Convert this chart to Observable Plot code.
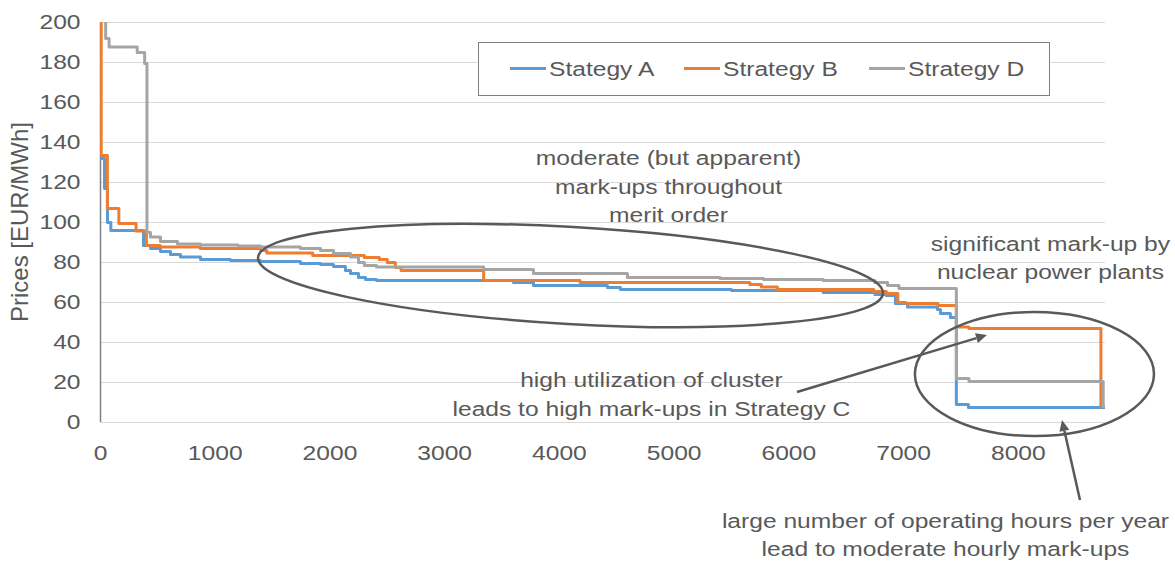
<!DOCTYPE html>
<html><head><meta charset="utf-8">
<script src="https://cdn.jsdelivr.net/npm/d3@7"></script>
<script src="https://cdn.jsdelivr.net/npm/@observablehq/plot@0.6"></script>
<style>body{margin:0;background:#fff} svg{display:block}</style>
</head><body><div id="chart"></div>
<script>
// ---- data (price duration curves, step breakpoints: hour -> price) ----
const seriesNames = ["Stategy A", "Strategy B", "Strategy D"];
const seriesColors = ["#5B9BD5", "#ED7D31", "#A5A5A5"];

const hoursA  = [0, 35, 61, 90, 375, 436, 523, 610, 697, 872, 1133, 1395, 1743, 1918, 2031, 2135, 2179, 2249, 2310, 2406, 3600, 3774, 4419, 4532, 5500, 6300, 6750, 6850, 6929, 7034, 7295, 7321, 7408, 7460, 7565, 8760];
const pricesA = [132, 117, 100, 96, 88.5, 87, 85.5, 84, 82.7, 81.5, 81, 80.5, 79.5, 79, 78, 76, 74.5, 72.5, 71.5, 71, 70, 68.5, 67.5, 66.5, 66, 65, 64, 63.5, 59.5, 57.7, 56.5, 54.5, 52.5, 9, 7.5, 7.5];

const hoursB  = [0, 6, 60, 160, 310, 400, 520, 870, 1395, 1450, 1850, 2300, 2430, 2500, 2570, 2620, 3340, 4180, 5660, 5760, 5900, 6740, 6850, 6950, 7020, 7300, 7460, 7570, 8720, 8760];
const pricesB = [250, 133.5, 107, 99.5, 95.7, 88.5, 87.7, 87, 86, 84.7, 83.5, 82.5, 81.5, 80, 77.5, 76, 71, 70, 69, 67.7, 66.5, 65.5, 64.5, 60, 59.5, 58.5, 47.7, 47, 8, 8];

const hoursD  = [0, 45, 75, 320, 385, 405, 436, 523, 671, 872, 1200, 1395, 1743, 1918, 2031, 2179, 2249, 2300, 2406, 3340, 3774, 4593, 5400, 5780, 6300, 6750, 6860, 6960, 7460, 7570, 8740, 8760];
const pricesD = [240, 192, 187.7, 185, 179.5, 95, 92.7, 90.5, 89.3, 88.7, 88.2, 87.7, 87, 86, 84.5, 82.7, 80, 78.5, 77.7, 76.5, 74.5, 72.5, 72, 71.5, 71, 70, 68.5, 67, 22, 20.5, 8, 8];

const xTicks = [0, 1000, 2000, 3000, 4000, 5000, 6000, 7000, 8000];
const yTicks = [0, 20, 40, 60, 80, 100, 120, 140, 160, 180, 200];
const yLabel = "Prices [EUR/MWh]";

// annotation text lines (x in hours, y in price units)
const noteText = ["moderate (but apparent)", "mark-ups throughout", "merit order",
                  "significant mark-up by", "nuclear power plants",
                  "high utilization of cluster", "leads to high mark-ups in Strategy C",
                  "large number of operating hours per year", "lead to moderate hourly mark-ups"];
const noteX = [4951, 4951, 4951, 8280, 8280, 4802, 4802, 7365, 7365];
const noteY = [132.2, 117.7, 103.7, 89.2, 75.2, 20.95, 6.7, -49.3, -63.3];

// ellipses (centre, semi-axes in data units, rotation in degrees)
const ellipseCx = [4101, 8145];
const ellipseCy = [73.25, 24];
const ellipseRx = [2728, 1042];
const ellipseRy = [24.25, 31];
const ellipseRot = [3.27, 0];

// arrows (from -> to, data units)
const arrowX1 = [6075, 8542];
const arrowY1 = [15, -39];
const arrowX2 = [7731, 8385];
const arrowY2 = [43.5, 1];

// ---- build tables ----
const rows = [];
[[hoursA, pricesA], [hoursB, pricesB], [hoursD, pricesD]].forEach(([hs, ps], i) => {
  hs.forEach((h, j) => rows.push({s: seriesNames[i], h, p: ps[j]}));
});
const notes = noteText.map((t, i) => ({text: t, x: noteX[i], y: noteY[i]}));

const FONT = '"Liberation Sans", Arial, sans-serif';
const TXT = "#595959";

const plot = Plot.plot({
  width: 1175, height: 564,
  marginLeft: 100, marginRight: 70, marginTop: 22, marginBottom: 142,
  style: {fontFamily: FONT, fontSize: "20px", color: TXT, background: "#fff"},
  x: {domain: [0, 8760]},
  y: {domain: [0, 200]},
  color: {domain: seriesNames, range: seriesColors},
  marks: [
    Plot.gridY(yTicks, {stroke: "#d9d9d9", strokeOpacity: 1, strokeWidth: 1}),
    Plot.axisY(yTicks, {tickSize: 0, tickPadding: 20, label: null, fontSize: 20, fill: TXT}),
    Plot.axisX(xTicks, {tickSize: 0, tickPadding: 23, label: null, fontSize: 20, fill: TXT, tickFormat: d3.format("d")}),
    Plot.ruleX([0], {stroke: "#7f7f7f", strokeWidth: 1.5}),
    Plot.line(rows, {x: "h", y: "p", z: "s", stroke: "s", curve: "step-after", strokeWidth: 3, clip: true}),
    Plot.text(notes, {x: "x", y: "y", text: "text", fontSize: 20, fill: TXT})
  ]
});
document.getElementById("chart").append(plot);

const xs = plot.scale("x"), ys = plot.scale("y");
const X = v => xs.apply(v), Y = v => ys.apply(v);
const svg = d3.select(plot);
const ann = svg.append("g");

// y-axis title, centred on the frame
svg.append("text").attr("class", "ylabel")
  .attr("transform", `translate(${X(0) - 80},${(Y(0) + Y(200)) / 2}) rotate(-90)`)
  .attr("text-anchor", "middle").attr("dy", "0.35em")
  .attr("fill", TXT).attr("font-size", 24).attr("font-family", FONT).text(yLabel);

// ellipses
ellipseCx.forEach((cx, i) => {
  const px = X(cx), py = Y(ellipseCy[i]);
  ann.append("ellipse")
    .attr("cx", px).attr("cy", py)
    .attr("rx", X(cx + ellipseRx[i]) - px)
    .attr("ry", Y(ellipseCy[i] - ellipseRy[i]) - py)
    .attr("transform", `rotate(${ellipseRot[i]} ${px} ${py})`)
    .attr("fill", "none").attr("stroke", "#595959").attr("stroke-width", 2.5);
});

// arrows with filled heads
arrowX1.forEach((x1, i) => {
  const ax = X(x1), ay = Y(arrowY1[i]), bx = X(arrowX2[i]), by = Y(arrowY2[i]);
  const L = Math.hypot(bx - ax, by - ay), ux = (bx - ax) / L, uy = (by - ay) / L;
  const hl = 11, hw = 5;
  const cx = bx - ux * hl, cy = by - uy * hl;
  ann.append("line").attr("x1", ax).attr("y1", ay).attr("x2", cx).attr("y2", cy)
    .attr("stroke", "#595959").attr("stroke-width", 2.5);
  ann.append("path")
    .attr("d", `M${bx},${by}L${cx - uy * hw},${cy + ux * hw}L${cx + uy * hw},${cy - ux * hw}Z`)
    .attr("fill", "#595959");
});

// legend
const leg = svg.append("g").attr("class", "legend");
leg.append("rect").attr("x", 478.5).attr("y", 42.5).attr("width", 571).attr("height", 53)
  .attr("fill", "#fff").attr("stroke", "#7f7f7f").attr("stroke-width", 1);
const legX = [510, 684, 869];
seriesNames.forEach((n, i) => {
  leg.append("line").attr("x1", legX[i]).attr("x2", legX[i] + 36).attr("y1", 68.5).attr("y2", 68.5)
    .attr("stroke", seriesColors[i]).attr("stroke-width", 3);
  leg.append("text").attr("x", legX[i] + 39).attr("y", 68.5).attr("dy", "0.35em")
    .attr("text-anchor", "start")
    .attr("fill", TXT).attr("font-size", 20).attr("font-family", FONT).text(n);
});

// horizontal stretch of texts to match reference glyph proportions
const STRETCH = 1.23;
function stretch(el) {
  const n = el.getComputedTextLength();
  if (n > 0) { el.setAttribute("textLength", n * STRETCH); el.setAttribute("lengthAdjust", "spacingAndGlyphs"); }
}
svg.selectAll("text").each(function () {
  if (this.classList.contains("ylabel")) return;
  const t = this.querySelectorAll("tspan");
  if (t.length) t.forEach(stretch); else stretch(this);
});
</script>
</body></html>
